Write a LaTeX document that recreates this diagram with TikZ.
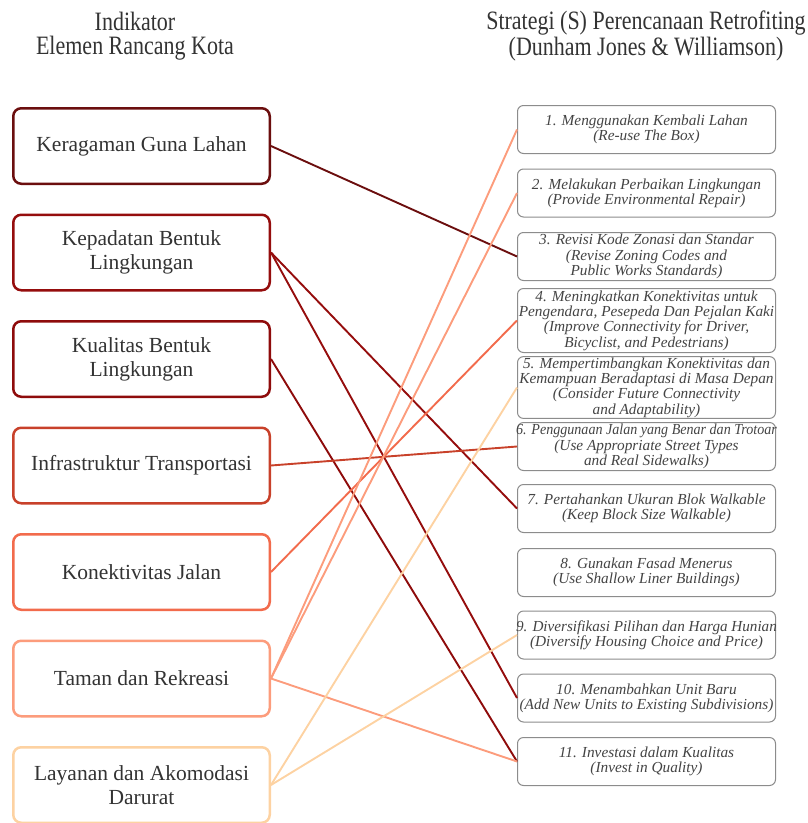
\documentclass[tikz,border=0pt]{standalone}
\usepackage{graphicx}
\usepackage{fontspec}
\setmainfont{Liberation Serif}
\newfontfamily\headfont[FakeStretch=0.83]{Liberation Serif}
\usetikzlibrary{positioning}

\definecolor{ind1}{HTML}{6B0E0E}
\definecolor{ind2}{HTML}{950D0D}
\definecolor{ind3}{HTML}{8E0B0B}
\definecolor{ind4}{HTML}{C8412A}
\definecolor{ind5}{HTML}{F26B4C}
\definecolor{ind6}{HTML}{FC9C7C}
\definecolor{ind7}{HTML}{FDD2A2}
\definecolor{txt}{HTML}{333333}
\definecolor{strtxt}{HTML}{444444}
\definecolor{strline}{HTML}{8C8C8C}

% line that may run past the box edge
\newcommand{\wideline}[2][1]{\makebox[0pt]{\scalebox{#1}[1]{#2}}}

\begin{document}
\begin{tikzpicture}[x=1pt, y=-1pt,
    head/.style={align=center, text=txt, font=\headfont\fontsize{26.5}{24}\selectfont},
    ind/.style={draw=#1, line width=2.5pt, rounded corners=8pt, fill=white, minimum width=256.5pt, minimum height=75.5pt, align=center, text=txt, font=\fontsize{21.5}{24}\selectfont},
    strat/.style={draw=strline, line width=1pt, rounded corners=6pt, fill=white, minimum width=258pt, minimum height=48pt, inner sep=1pt, align=center, text=strtxt, font=\itshape\fontsize{15.3}{15.3}\selectfont},
    link/.style={line width=1.9pt, draw=#1}]

\useasboundingbox (0,0) rectangle (808,823);

% Headings
\node[head] (hind) at (135,36) {Indikator\\Elemen Rancang Kota};
\node[head] (hstr) at (646,36) {Strategi (S) Perencanaan Retrofiting\\(Dunham Jones \& Williamson)};

% Indikator (left column)
\node[ind=ind1] (k1) at (141.5,146) {Keragaman Guna Lahan};
\node[ind=ind2, below=28.5pt of k1] (k2) {Kepadatan Bentuk\\Lingkungan};
\node[ind=ind3, below=28.5pt of k2] (k3) {Kualitas Bentuk\\Lingkungan};
\node[ind=ind4, below=28.5pt of k3] (k4) {Infrastruktur Transportasi};
\node[ind=ind5, below=28.5pt of k4] (k5) {Konektivitas Jalan};
\node[ind=ind6, below=28.5pt of k5] (k6) {Taman dan Rekreasi};
\node[ind=ind7, below=28.5pt of k6] (k7) {Layanan dan Akomodasi\\Darurat};

% Strategi (right column)
\node[strat] (s1) at (646.5,129.5) {1. Menggunakan Kembali Lahan\\(Re-use The Box)};
\node[strat] (s2) at (646.5,193) {2. Melakukan Perbaikan Lingkungan\\(Provide Environmental Repair)};
\node[strat] (s3) at (646.5,256.5) {3. Revisi Kode Zonasi dan Standar\\(Revise Zoning Codes and\\Public Works Standards)};
\node[strat, minimum height=64pt] (s4) at (646.5,320.5) {4. Meningkatkan Konektivitas untuk\\Pengendara, Pesepeda Dan Pejalan Kaki\\(Improve Connectivity for Driver,\\Bicyclist, and Pedestrians)};
\node[strat, minimum height=60pt] (s5) at (646.5,387.5) {5. Mempertimbangkan Konektivitas dan\\Kemampuan Beradaptasi di Masa Depan\\(Consider Future Connectivity\\and Adaptability)};
\node[strat] (s6) at (646.5,446.5) {\wideline[0.92]{6. Penggunaan Jalan yang Benar dan Trotoar}\\(Use Appropriate Street Types\\and Real Sidewalks)};
\node[strat] (s7) at (646.5,508.5) {7. Pertahankan Ukuran Blok Walkable\\(Keep Block Size Walkable)};
\node[strat] (s8) at (646.5,572.5) {8. Gunakan Fasad Menerus\\(Use Shallow Liner Buildings)};
\node[strat] (s9) at (646.5,635) {\wideline[0.99]{9. Diversifikasi Pilihan dan Harga Hunian}\\(Diversify Housing Choice and Price)};
\node[strat] (s10) at (646.5,698) {10. Menambahkan Unit Baru\\(Add New Units to Existing Subdivisions)};
\node[strat] (s11) at (646.5,761.5) {11. Investasi dalam Kualitas\\(Invest in Quality)};

% Links indikator -> strategi
\draw[link=ind1] (k1.east) -- (s3.west);
\draw[link=ind2] (k2.east) -- (s7.west);
\draw[link=ind2] (k2.east) -- (s10.west);
\draw[link=ind3] (k3.east) -- (s11.west);
\draw[link=ind4] (k4.east) -- (s6.west);
\draw[link=ind5] (k5.east) -- (s4.west);
\draw[link=ind6] (k6.east) -- (s1.west);
\draw[link=ind6] (k6.east) -- (s2.west);
\draw[link=ind6] (k6.east) -- (s11.west);
\draw[link=ind7] (k7.east) -- (s5.west);
\draw[link=ind7] (k7.east) -- (s9.west);
\end{tikzpicture}
\end{document}
